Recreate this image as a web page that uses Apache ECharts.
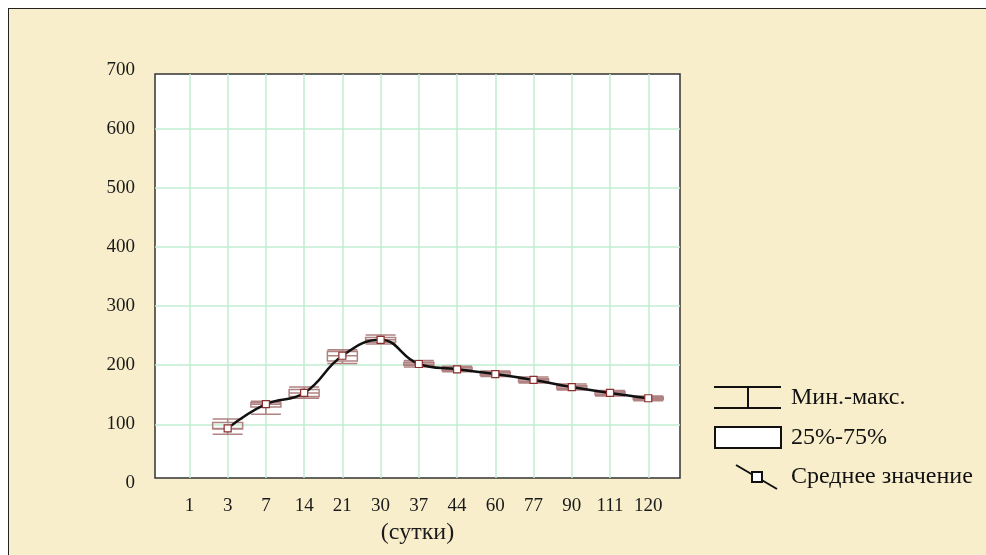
<!DOCTYPE html>
<html>
<head>
<meta charset="utf-8">
<script src="https://cdn.jsdelivr.net/npm/echarts@6/dist/echarts.min.js"></script>
<style>
  html, body { margin: 0; padding: 0; background: #fff; overflow: hidden; }
  #frame {
    position: absolute; left: 8px; top: 8px; width: 1000px; height: 600px;
    border: 1.5px solid #222; background: #f8eecc;
  }
  #main { position: absolute; left: 0; top: 0; width: 986px; height: 555px; }
</style>
</head>
<body>
<div id="frame"></div>
<div id="main"></div>
<script>
// подписи по оси X (сутки)
const days = ['1', '3', '7', '14', '21', '30', '37', '44', '60', '77', '90', '111', '120'];
// позиции точек на оси (номер подписи)
const pos = [2, 3, 4, 5, 6, 7, 8, 9, 10, 11, 12, 13];
// мин, 25%, медиана, 75%, макс
const minVals = [83, 117, 144, 203, 236, 197, 189, 181, 170, 158, 148, 140];
const q1Vals = [92, 129, 147, 207, 239, 200, 191, 183, 172, 160, 150, 142];
const medVals = [93, 134, 153, 216, 243, 202, 193, 185, 175, 163, 153, 144];
const q3Vals = [103, 137, 159, 223, 247, 205, 196, 188, 177, 165, 155, 146];
const maxVals = [109, 139, 163, 226, 251, 208, 198, 190, 180, 168, 157, 148];
// среднее значение
const means = [93, 134, 153, 216, 243, 202, 193, 185, 175, 163, 153, 144];

const chart = echarts.init(document.getElementById('main'), null, { renderer: 'canvas' });

const serif = 'Liberation Serif';
const gridColor = '#c0ecd0';

const boxData = pos.map((p, i) => [p, minVals[i], q1Vals[i], medVals[i], q3Vals[i], maxVals[i]]);
const meanData = pos.map((p, i) => [p, means[i]]);

const option = {
  backgroundColor: 'transparent',
  animation: false,
  grid: [
    { left: 155, top: 74, width: 525, height: 404, show: true, backgroundColor: '#fff',
      borderColor: '#333', borderWidth: 1.5, z: 0 },
    // только для подписей оси Y
    { left: 155, top: 70.3, width: 525, height: 412.6, show: false }
  ],
  xAxis: [
    {
      gridIndex: 0, type: 'value', min: 0.1, max: 13.83,
      axisLine: { show: false },
      axisTick: { show: false, customValues: days.map((d, i) => i + 1) },
      axisLabel: {
        customValues: days.map((d, i) => i + 1),
        formatter: v => days[Math.round(v) - 1],
        margin: 19, fontSize: 19, fontFamily: serif, color: '#1a1a1a'
      },
      splitLine: { show: true, lineStyle: { color: gridColor, width: 1.5 } },
      name: '(сутки)', nameLocation: 'middle', nameGap: 39,
      nameTextStyle: { fontSize: 24, fontFamily: serif, color: '#1a1a1a' }
    },
    { gridIndex: 1, type: 'value', min: 0, max: 1, show: false }
  ],
  yAxis: [
    {
      gridIndex: 0, type: 'value', min: 9, max: 693,
      axisLine: { show: false },
      axisTick: { show: false, customValues: [100, 200, 300, 400, 500, 600] },
      axisLabel: { show: false },
      splitLine: { show: true, lineStyle: { color: gridColor, width: 1.5 } }
    },
    {
      gridIndex: 1, type: 'value', min: 0, max: 700, interval: 100,
      axisLine: { show: false }, axisTick: { show: false },
      splitLine: { show: false },
      axisLabel: { margin: 20, fontSize: 19, fontFamily: serif, color: '#1a1a1a' }
    }
  ],
  series: [
    {
      type: 'boxplot', xAxisIndex: 0, yAxisIndex: 0,
      data: boxData,
      boxWidth: [30, 30],
      itemStyle: { color: 'rgba(255,255,255,0)', borderColor: '#b08282', borderWidth: 1.5 },
      z: 3
    },
    {
      type: 'line', xAxisIndex: 0, yAxisIndex: 0,
      data: meanData,
      smooth: 0.45,
      symbol: 'rect', symbolSize: 7, showSymbol: true,
      lineStyle: { color: '#111', width: 2.5 },
      itemStyle: { color: '#fff', borderColor: '#8b2e2e', borderWidth: 1.2 },
      z: 4
    }
  ],
  graphic: [
    // легенда: мин.-макс.
    { type: 'line', shape: { x1: 714, y1: 387, x2: 781, y2: 387 }, style: { stroke: '#111', lineWidth: 2 } },
    { type: 'line', shape: { x1: 714, y1: 408, x2: 781, y2: 408 }, style: { stroke: '#111', lineWidth: 2 } },
    { type: 'line', shape: { x1: 748, y1: 387, x2: 748, y2: 408 }, style: { stroke: '#111', lineWidth: 2 } },
    { type: 'text', left: 791, top: 386, style: { text: 'Мин.-макс.', fontSize: 24, fontFamily: serif, fill: '#111' } },
    // 25%-75%
    { type: 'rect', shape: { x: 715, y: 427, width: 66, height: 21 }, style: { fill: '#fff', stroke: '#111', lineWidth: 2 } },
    { type: 'text', left: 791, top: 426, style: { text: '25%-75%', fontSize: 24, fontFamily: serif, fill: '#111' } },
    // среднее значение
    { type: 'line', shape: { x1: 736, y1: 465, x2: 777, y2: 489 }, style: { stroke: '#111', lineWidth: 2 } },
    { type: 'rect', shape: { x: 752, y: 472, width: 10, height: 10 }, style: { fill: '#fff', stroke: '#111', lineWidth: 2 } },
    { type: 'text', left: 791, top: 465, style: { text: 'Среднее значение', fontSize: 24, fontFamily: serif, fill: '#111' } }
  ]
};

chart.setOption(option);
</script>
</body>
</html>
